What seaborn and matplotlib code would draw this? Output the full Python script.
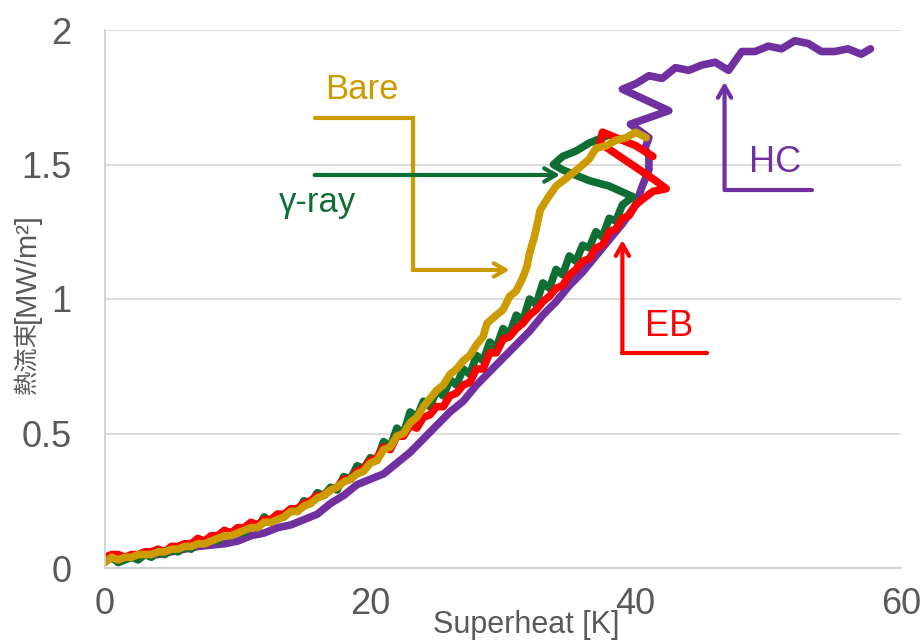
import matplotlib
matplotlib.use("Agg")
import matplotlib.pyplot as plt
import seaborn as sns
import pandas as pd

# ---- data ----
bare_x = [0, 0.5, 1, 1.5, 2, 2.5, 3, 3.5, 4, 4.5, 5, 5.5, 6, 6.5, 7, 7.5, 8, 8.5, 9, 9.5, 10,
          10.5, 11, 11.5, 12, 12.5, 13, 13.5, 14, 14.5, 15, 15.5, 16, 16.5, 17, 17.5, 18, 18.5,
          19, 19.5, 20, 20.5, 21, 21.5, 22, 22.5, 23, 23.5, 24, 24.5, 25, 25.5, 26, 26.5, 27,
          27.5, 28, 28.5, 28.8, 29.5, 30, 30.5, 31, 31.5, 31.8, 32, 32.3, 32.5, 32.8, 33.3,
          34, 34.8, 35.8, 36.5, 37, 37.8, 38.5, 39.3, 40, 40.8]
bare_y = [0.02, 0.04, 0.03, 0.04, 0.04, 0.05, 0.05, 0.05, 0.06, 0.06, 0.07, 0.07, 0.08, 0.08,
          0.09, 0.09, 0.10, 0.11, 0.12, 0.12, 0.13, 0.14, 0.15, 0.15, 0.17, 0.17, 0.18, 0.19,
          0.21, 0.21, 0.23, 0.24, 0.26, 0.27, 0.29, 0.30, 0.32, 0.33, 0.35, 0.36, 0.39, 0.40,
          0.44, 0.45, 0.49, 0.50, 0.54, 0.56, 0.60, 0.63, 0.66, 0.68, 0.72, 0.74, 0.77, 0.79,
          0.83, 0.86, 0.91, 0.94, 0.96, 1.01, 1.03, 1.08, 1.12, 1.17, 1.22, 1.26, 1.33, 1.37,
          1.42, 1.45, 1.49, 1.52, 1.56, 1.57, 1.59, 1.60, 1.62, 1.60]

gamma_x = [0, 0.5, 1, 1.5, 2, 2.5, 3, 3.5, 4, 4.5, 5, 5.5, 6, 6.5, 7, 7.5, 8, 8.5, 9, 9.5, 10,
           10.5, 11, 11.5, 12, 12.5, 13, 13.5, 14, 14.5, 15, 15.5, 16, 16.5, 17, 17.5, 18, 18.5,
           19, 19.5, 20, 20.5, 21, 21.5, 22, 22.5, 23, 23.5, 24, 24.5, 25, 25.5, 26, 26.5, 27,
           27.5, 28, 28.5, 29, 29.5, 30, 30.5, 31, 31.5, 32, 32.5, 33, 33.5, 34, 34.5, 35, 35.5,
           36, 36.5, 37, 37.5, 38, 38.5, 39, 39.8,
           38, 36.5, 35.5, 34.5, 33.8, 34.5, 35.5, 36.5, 37.5, 38]
gamma_y = [0.03, 0.04, 0.02, 0.03, 0.04, 0.03, 0.05, 0.04, 0.06, 0.05, 0.07, 0.06, 0.08, 0.07,
           0.10, 0.09, 0.11, 0.10, 0.13, 0.12, 0.14, 0.13, 0.16, 0.15, 0.19, 0.17, 0.20, 0.19,
           0.22, 0.21, 0.25, 0.24, 0.28, 0.27, 0.30, 0.29, 0.34, 0.33, 0.38, 0.37, 0.41, 0.40,
           0.47, 0.45, 0.52, 0.50, 0.58, 0.56, 0.62, 0.60, 0.66, 0.64, 0.70, 0.68, 0.74, 0.72,
           0.79, 0.77, 0.84, 0.82, 0.89, 0.87, 0.94, 0.92, 1.00, 0.98, 1.06, 1.04, 1.11, 1.09,
           1.16, 1.14, 1.20, 1.19, 1.25, 1.23, 1.30, 1.29, 1.35, 1.38,
           1.42, 1.44, 1.46, 1.48, 1.50, 1.53, 1.55, 1.58, 1.60, 1.61]

eb_x = [0, 0.5, 1, 1.5, 2, 2.5, 3, 3.5, 4, 4.5, 5, 5.5, 6, 6.5, 7, 7.5, 8, 8.5, 9, 9.5, 10,
        10.5, 11, 11.5, 12, 12.5, 13, 13.5, 14, 14.5, 15, 15.5, 16, 16.5, 17, 17.5, 18, 18.5,
        19, 19.5, 20, 20.5, 21, 21.5, 22, 22.5, 23, 23.5, 24, 24.5, 25, 25.5, 26, 26.5, 27,
        27.5, 28, 28.5, 29, 29.5, 30, 30.5, 31, 31.5, 32, 32.5, 33, 33.5, 34, 34.5, 35, 35.5,
        36, 36.5, 37, 37.5, 38, 38.5, 39, 39.5, 40, 40.5, 41.3, 42.3,
        41.5, 40, 38.5, 37.3, 37.5, 38.5, 40, 41.3]
eb_y = [0.04, 0.05, 0.05, 0.04, 0.05, 0.05, 0.06, 0.06, 0.07, 0.06, 0.08, 0.08, 0.09, 0.09,
        0.11, 0.10, 0.12, 0.12, 0.14, 0.13, 0.15, 0.15, 0.17, 0.16, 0.18, 0.18, 0.20, 0.20,
        0.22, 0.22, 0.24, 0.25, 0.27, 0.27, 0.29, 0.30, 0.33, 0.33, 0.36, 0.37, 0.40, 0.41,
        0.45, 0.44, 0.49, 0.49, 0.53, 0.52, 0.56, 0.57, 0.60, 0.60, 0.64, 0.65, 0.68, 0.69,
        0.74, 0.74, 0.80, 0.80, 0.85, 0.86, 0.89, 0.91, 0.94, 0.96, 0.99, 1.01, 1.04, 1.05,
        1.09, 1.11, 1.14, 1.15, 1.19, 1.20, 1.25, 1.26, 1.30, 1.31, 1.35, 1.37, 1.40, 1.41,
        1.44, 1.49, 1.54, 1.58, 1.62, 1.60, 1.57, 1.53]

hc_x = [0, 1, 2, 3, 4, 5, 6, 7, 8, 9, 10, 11, 12, 13, 14, 15, 16, 17, 18, 19, 20, 21, 22, 23,
        24, 25, 26, 27, 28, 29, 30, 31, 32, 33, 34, 35, 36, 37, 38, 39, 40, 40.5, 41, 41,
        40.7, 41, 39.6, 42.5, 39, 40, 41, 42, 43, 44, 45, 46, 47, 48, 49, 50, 51, 52, 53, 54,
        55, 56, 57, 57.7]
hc_y = [0.03, 0.04, 0.04, 0.05, 0.05, 0.06, 0.07, 0.08, 0.085, 0.09, 0.10, 0.12, 0.13, 0.15,
        0.16, 0.18, 0.20, 0.24, 0.27, 0.31, 0.33, 0.35, 0.39, 0.43, 0.48, 0.53, 0.58, 0.62,
        0.68, 0.73, 0.78, 0.83, 0.88, 0.94, 0.99, 1.05, 1.10, 1.16, 1.22, 1.28, 1.35, 1.42,
        1.48, 1.53, 1.56, 1.60, 1.65, 1.70, 1.78, 1.80, 1.83, 1.82, 1.86, 1.85, 1.87, 1.88,
        1.85, 1.92, 1.92, 1.94, 1.93, 1.96, 1.95, 1.92, 1.92, 1.93, 1.91, 1.93]

series = [("HC", hc_x, hc_y, "#7030A0"),
          ("γ-ray", gamma_x, gamma_y, "#0E6E33"),
          ("EB", eb_x, eb_y, "#FF0000"),
          ("Bare", bare_x, bare_y, "#CC9B00")]

x_ticks = [0, 20, 40, 60]
y_ticks = [0, 0.5, 1, 1.5, 2]
y_tick_labels = ["0", "0.5", "1", "1.5", "2"]

# ---- figure ----
sns.set_theme(style="white")
plt.rcParams['font.family'] = ['Liberation Sans', 'DejaVu Sans']

fig = plt.figure(figsize=(9.24, 6.43), dpi=100)
ax = fig.add_axes([105/924, 1-568/643, 796/924, 538/643])

for name, xs, ys, col in series:
    df = pd.DataFrame({"x": xs, "y": ys})
    sns.lineplot(data=df, x="x", y="y", ax=ax, sort=False, estimator=None,
                 color=col, lw=5.5, solid_joinstyle="round", solid_capstyle="round")

ax.set_xlim(0, 60)
ax.set_ylim(0, 2)
ax.set_xticks(x_ticks)
ax.set_xticklabels([str(t) for t in x_ticks])
ax.set_yticks(y_ticks)
ax.set_yticklabels(y_tick_labels)
ax.tick_params(axis="both", length=0, labelsize=26, labelcolor="#595959")
ax.tick_params(axis="x", pad=14)
ax.tick_params(axis="y", pad=24)
ax.grid(axis="y", color="#D9D9D9", lw=1.3)
ax.set_axisbelow(True)
for s in ["top", "right"]:
    ax.spines[s].set_visible(False)
for s in ["left", "bottom"]:
    ax.spines[s].set_color("#D0D0D0")
    ax.spines[s].set_linewidth(1.3)
ax.set_xlabel("")
ax.set_ylabel("")

# annotations
def bent_arrow(pts, col):
    xs = [p[0] for p in pts[:-1]]
    ys = [p[1] for p in pts[:-1]]
    if len(pts) > 2:
        ax.plot(xs, ys, color=col, lw=3, solid_joinstyle="miter", zorder=5)
    ax.annotate("", xy=pts[-1], xytext=pts[-2],
                arrowprops=dict(arrowstyle="->,head_length=0.7,head_width=0.4",
                                color=col, lw=3, shrinkA=0, shrinkB=0), zorder=5)

bent_arrow([(15.8, 1.673), (23.2, 1.673), (23.2, 1.108), (30.5, 1.108)], "#CC9B00")
bent_arrow([(15.8, 1.461), (34.3, 1.461)], "#0E6E33")
bent_arrow([(45.4, 0.799), (39.0, 0.799), (39.0, 1.219)], "#FF0000")
bent_arrow([(53.3, 1.405), (46.7, 1.405), (46.7, 1.807)], "#7030A0")

ax.text(19.4, 1.777, "Bare", color="#CC9B00", fontsize=25, ha="center", va="center")
ax.text(16.0, 1.357, "γ-ray", color="#0E6E33", fontsize=25, ha="center", va="center")
ax.text(42.5, 0.896, "EB", color="#FF0000", fontsize=26, ha="center", va="center")
ax.text(50.5, 1.509, "HC", color="#7030A0", fontsize=26, ha="center", va="center")

fig.text(526/924, 1-625/643, "Superheat [K]", fontsize=22, color="#595959",
         ha="center", va="center")
# y-axis title: CJK part + bracketed unit part, stacked vertically
fig.text(27/924, 1-394/643, "熱流束", fontsize=17.5, color="#595959",
         ha="center", va="bottom", rotation=90,
         family=["Noto Sans CJK JP", "DejaVu Sans"])
fig.text(27/924, 1-323/643, "[MW/m²]", fontsize=21, color="#595959",
         ha="center", va="bottom", rotation=90,
         family=["Liberation Sans", "DejaVu Sans"])

fig.savefig("out.png", dpi=100)
